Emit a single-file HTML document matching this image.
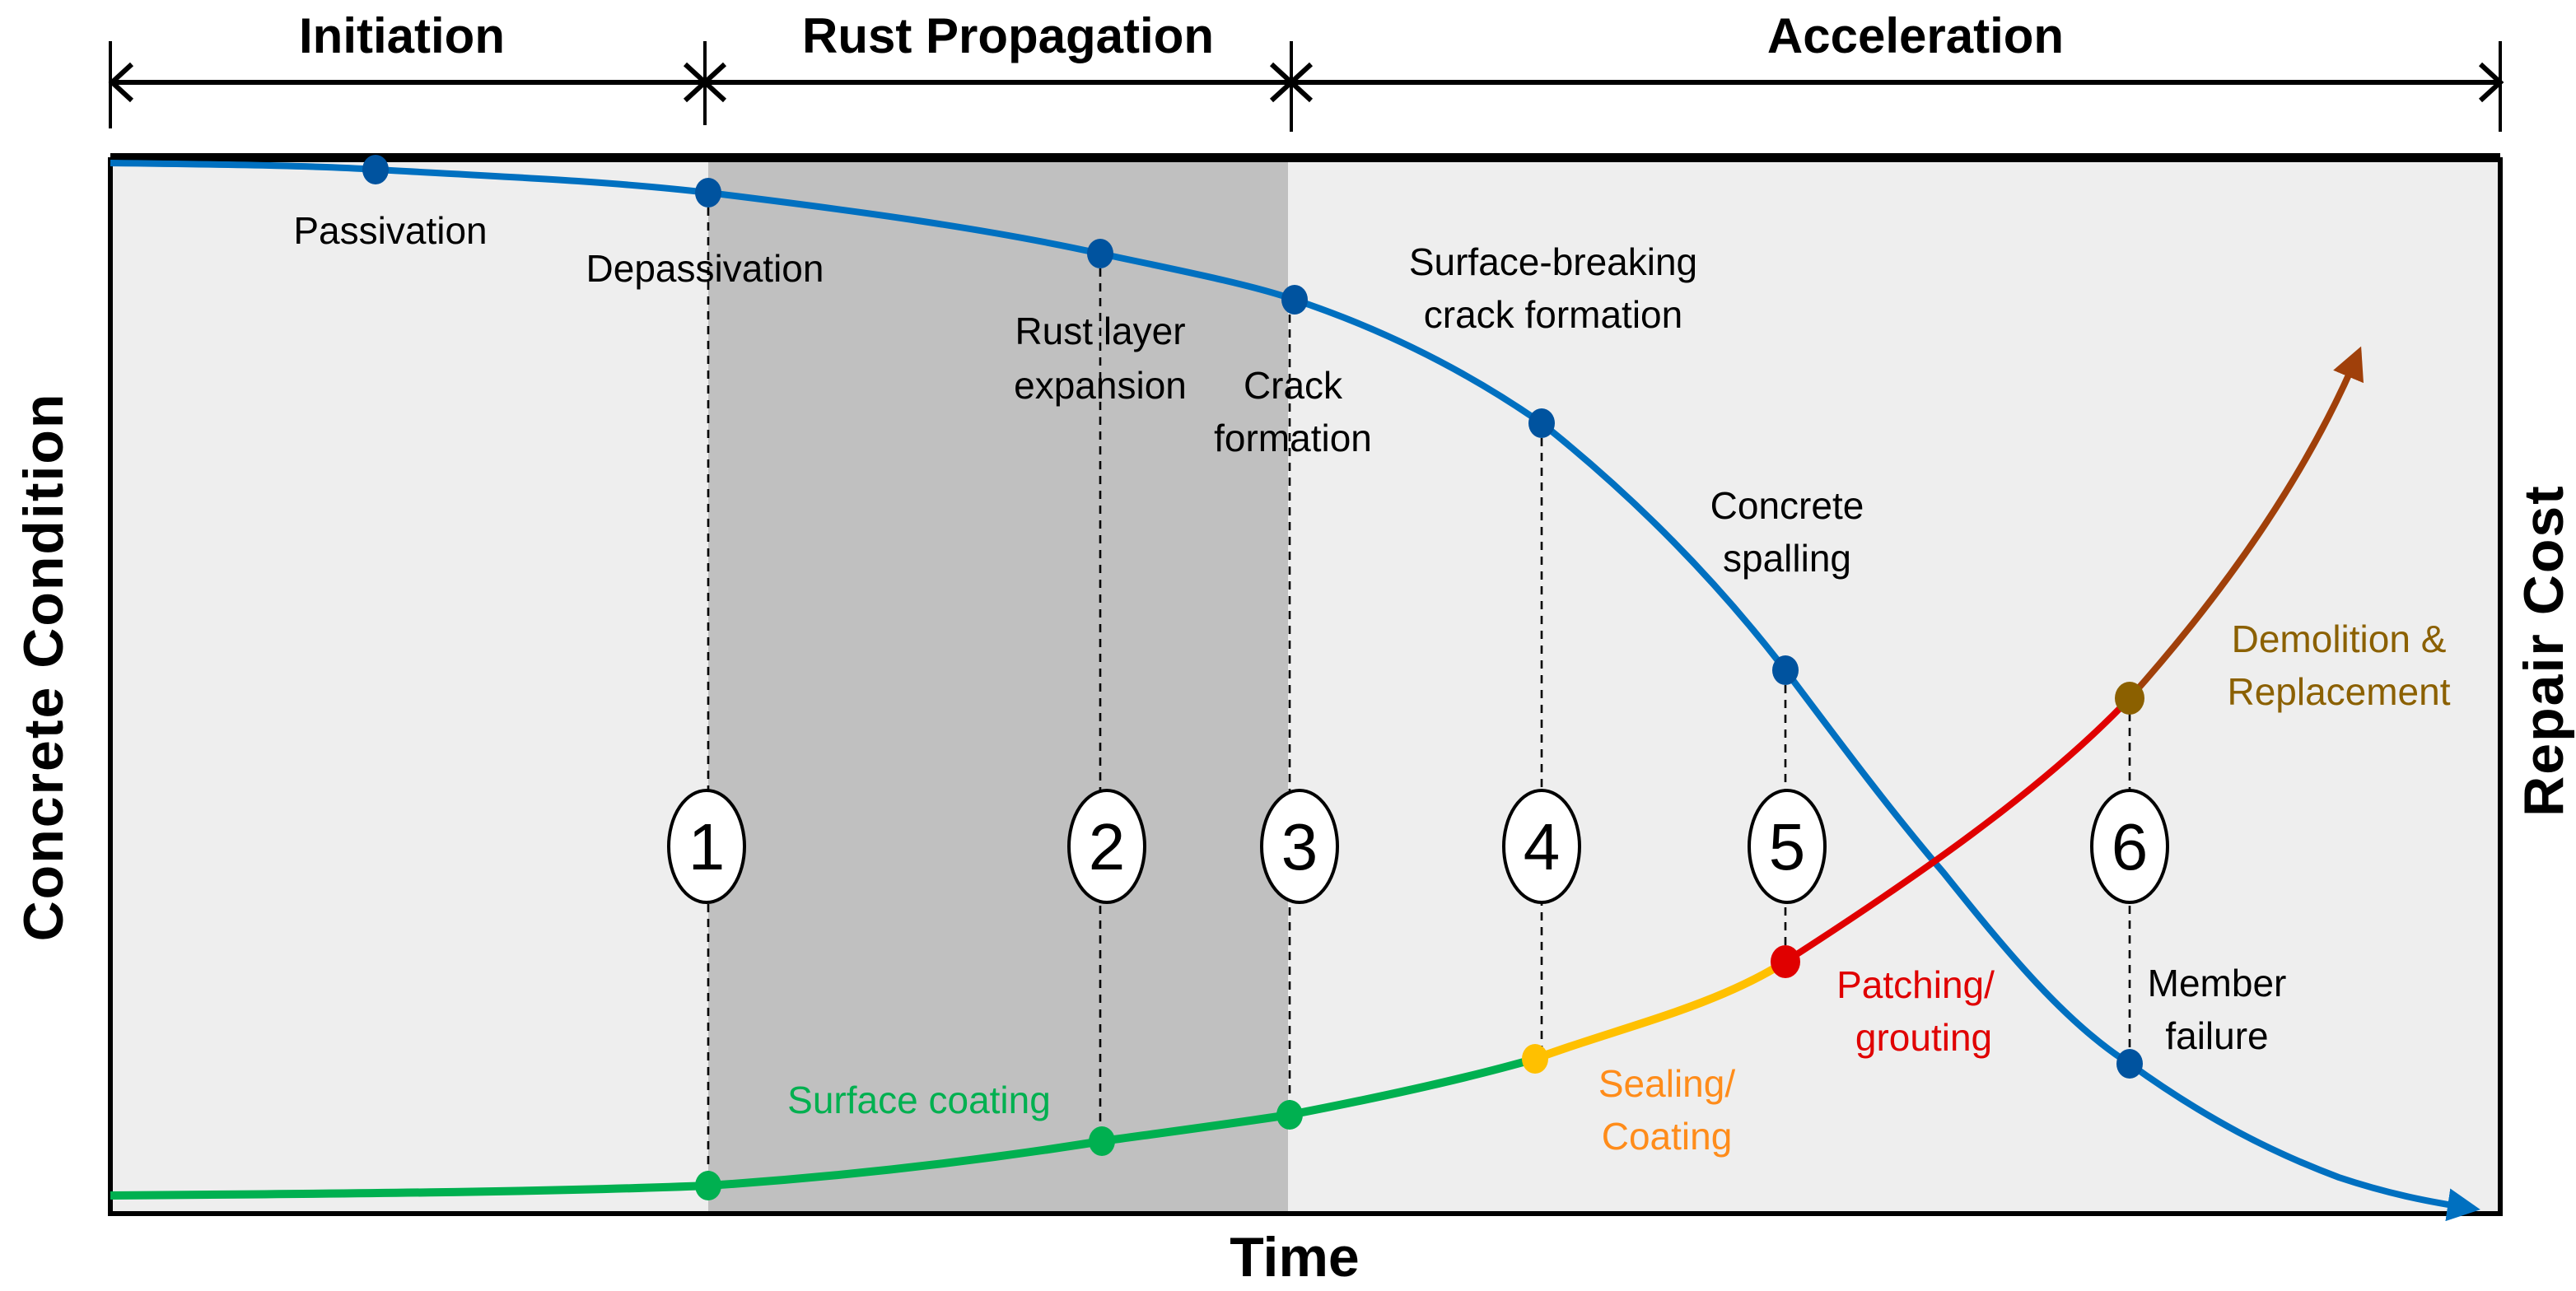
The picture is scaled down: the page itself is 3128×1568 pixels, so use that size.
<!DOCTYPE html>
<html><head><meta charset="utf-8"><style>
html,body{margin:0;padding:0;background:#fff;}
svg{display:block;}
text{font-family:"Liberation Sans Narrow","Liberation Sans",sans-serif;}
.l{font-size:23px;text-anchor:middle;fill:#000;}
.b{font-family:"Liberation Sans",sans-serif;font-weight:bold;}
</style></head><body>
<svg width="3128" height="1568" viewBox="0 0 1564 784" xmlns="http://www.w3.org/2000/svg">
<defs>
<marker id="ab" viewBox="0 0 10 10" refX="8" refY="5" markerWidth="5" markerHeight="5" orient="auto"><path d="M0,0 L10,5 L0,10 z" fill="#0070c0"/></marker>
<marker id="ar" viewBox="0 0 10 10" refX="8" refY="5" markerWidth="5" markerHeight="5" orient="auto"><path d="M0,0 L10,5 L0,10 z" fill="#a0400a"/></marker>
</defs>
<rect x="67" y="97" width="363" height="640" fill="#eeeeee"/>
<rect x="430" y="97" width="352" height="640" fill="#c0c0c0"/>
<rect x="782" y="97" width="736" height="640" fill="#eeeeee"/>
<path d="M67,97 L1518,97 L1518,737 L67,737 Z" fill="none" stroke="#000" stroke-width="3"/>
<line x1="67" y1="95" x2="1518" y2="95" stroke="#000" stroke-width="4"/>
<!-- top phase arrows -->
<g stroke="#000" stroke-width="3" fill="none">
<line x1="68" y1="50" x2="1516" y2="50"/>
<line x1="67" y1="25" x2="67" y2="78" stroke-width="2"/>
<line x1="428" y1="25" x2="428" y2="76" stroke-width="2"/>
<line x1="784" y1="25" x2="784" y2="80" stroke-width="2"/>
<line x1="1518" y1="25" x2="1518" y2="80" stroke-width="2"/>
<path d="M80,39 L68,50 L80,61"/>
<path d="M416,39 L428,50 L416,61 M440,39 L428,50 L440,61"/>
<path d="M772,39 L784,50 L772,61 M796,39 L784,50 L796,61"/>
<path d="M1506,39 L1518,50 L1506,61"/>
</g>
<text x="244" y="32" class="b" font-size="30" text-anchor="middle">Initiation</text>
<text x="612" y="32" class="b" font-size="30" text-anchor="middle">Rust Propagation</text>
<text x="1163" y="32" class="b" font-size="30" text-anchor="middle">Acceleration</text>
<!-- dashed lines -->
<g stroke="#000" stroke-width="1.3" stroke-dasharray="5,4">
<line x1="430" y1="117" x2="430" y2="720"/>
<line x1="668" y1="154" x2="668" y2="693"/>
<line x1="783" y1="182" x2="783" y2="677"/>
<line x1="936" y1="257" x2="936" y2="643"/>
<line x1="1084" y1="407" x2="1084" y2="584"/>
<line x1="1293" y1="424" x2="1293" y2="646"/>
</g>
<!-- blue curve -->
<path d="M67,99 C150,100 200,101 228,103 C300,107 370,110 430,117 C520,128 600,139 668,154 C720,165 760,173 786,182 C840,200 890,225 936,257 C990,300 1040,350 1084,407 C1120,455 1150,495 1180,530 C1220,580 1255,622 1293,646 C1340,680 1380,700 1420,715 C1450,725 1475,730 1502,734" fill="none" stroke="#0070c0" stroke-width="4" marker-end="url(#ab)"/>
<!-- green/yellow/red/brown -->
<path d="M67,726 C200,725 330,724 430,720 C520,714 600,704 669,693 C720,686 750,682 783,677 C840,666 890,655 932,643" fill="none" stroke="#00b050" stroke-width="5"/>
<path d="M932,643 C980,625 1040,612 1084,584" fill="none" stroke="#ffc000" stroke-width="5"/>
<path d="M1084,584 C1160,535 1240,480 1293,424" fill="none" stroke="#e00000" stroke-width="4"/>
<path d="M1293,424 C1350,360 1400,290 1432,214" fill="none" stroke="#a0400a" stroke-width="4" marker-end="url(#ar)"/>
<!-- dots -->
<g fill="#00539f">
<ellipse cx="228" cy="103" rx="8" ry="9"/>
<ellipse cx="430" cy="117" rx="8" ry="9"/>
<ellipse cx="668" cy="154" rx="8" ry="9"/>
<ellipse cx="786" cy="182" rx="8" ry="9"/>
<ellipse cx="936" cy="257" rx="8" ry="9"/>
<ellipse cx="1084" cy="407" rx="8" ry="9"/>
<ellipse cx="1293" cy="646" rx="8" ry="9"/>
</g>
<g fill="#00b050">
<ellipse cx="430" cy="720" rx="8" ry="9"/>
<ellipse cx="669" cy="693" rx="8" ry="9"/>
<ellipse cx="783" cy="677" rx="8" ry="9"/>
</g>
<ellipse cx="932" cy="643" rx="8" ry="9" fill="#ffc000"/>
<ellipse cx="1084" cy="584" rx="9" ry="10" fill="#e00000"/>
<ellipse cx="1293" cy="424" rx="9" ry="10" fill="#8b6000"/>
<!-- numbered ellipses -->
<g fill="#fff" stroke="#000" stroke-width="2">
<ellipse cx="429" cy="514" rx="23" ry="34"/>
<ellipse cx="672" cy="514" rx="23" ry="34"/>
<ellipse cx="789" cy="514" rx="23" ry="34"/>
<ellipse cx="936" cy="514" rx="23" ry="34"/>
<ellipse cx="1085" cy="514" rx="23" ry="34"/>
<ellipse cx="1293" cy="514" rx="23" ry="34"/>
</g>
<g font-size="40" text-anchor="middle" fill="#000">
<text x="429" y="528">1</text><text x="672" y="528">2</text><text x="789" y="528">3</text>
<text x="936" y="528">4</text><text x="1085" y="528">5</text><text x="1293" y="528">6</text>
</g>
<!-- labels -->
<text x="237" y="148" class="l">Passivation</text>
<text x="428" y="171" class="l">Depassivation</text>
<text x="668" y="209" class="l">Rust layer</text>
<text x="668" y="242" class="l">expansion</text>
<text x="785" y="242" class="l">Crack</text>
<text x="785" y="274" class="l">formation</text>
<text x="943" y="167" class="l">Surface-breaking</text>
<text x="943" y="199" class="l">crack formation</text>
<text x="1085" y="315" class="l">Concrete</text>
<text x="1085" y="347" class="l">spalling</text>
<text x="1346" y="605" class="l">Member</text>
<text x="1346" y="637" class="l">failure</text>
<text x="1420" y="396" class="l" style="fill:#8b6000">Demolition &amp;</text>
<text x="1420" y="428" class="l" style="fill:#8b6000">Replacement</text>
<text x="1163" y="606" class="l" style="fill:#e00000">Patching/</text>
<text x="1168" y="638" class="l" style="fill:#e00000">grouting</text>
<text x="1012" y="666" class="l" style="fill:#ff8c1a">Sealing/</text>
<text x="1012" y="698" class="l" style="fill:#ff8c1a">Coating</text>
<text x="558" y="676" class="l" style="fill:#00b050">Surface coating</text>
<!-- axis labels -->
<text x="786" y="775" class="b" font-size="34" text-anchor="middle">Time</text>
<text transform="translate(38,405) rotate(-90)" class="b" font-size="34" text-anchor="middle" letter-spacing="1">Concrete Condition</text>
<text transform="translate(1556,395) rotate(-90)" class="b" font-size="34" text-anchor="middle" letter-spacing="1">Repair Cost</text>
</svg>
</body></html>
